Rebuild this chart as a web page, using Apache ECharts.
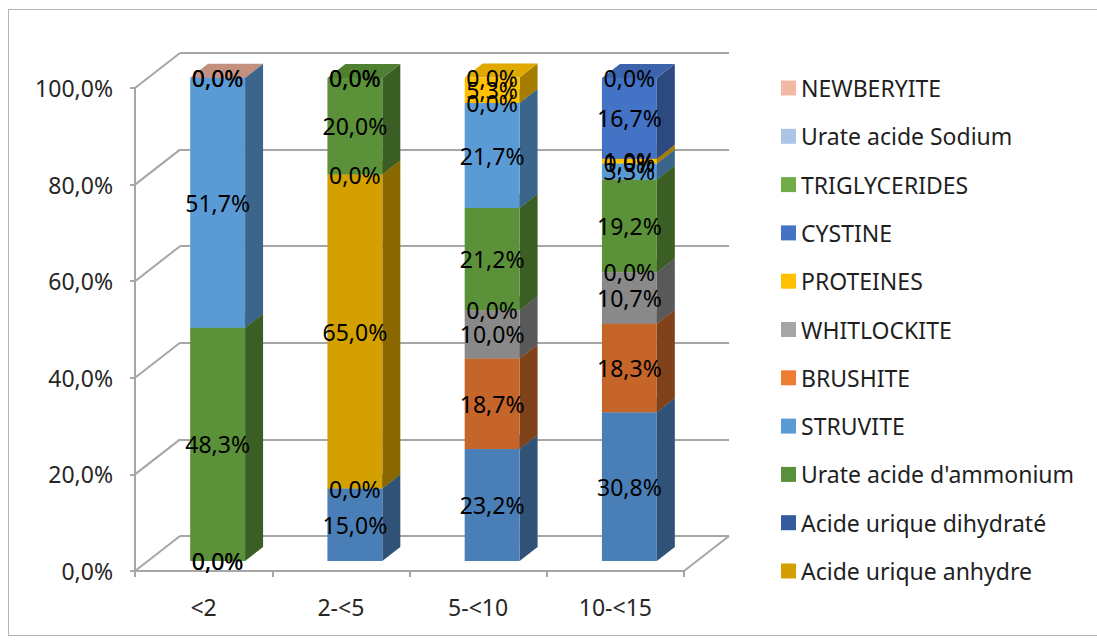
<!DOCTYPE html>
<html>
<head>
<meta charset="utf-8">
<script src="https://cdn.jsdelivr.net/npm/echarts@6/dist/echarts.min.js"></script>
<style>
  html, body { margin: 0; padding: 0; background: #ffffff; }
  #chart { position: absolute; left: 0; top: 0; width: 1097px; height: 641px; }
  #frame { position: absolute; left: 8px; top: 9px; width: 1100px; height: 627px;
           border: 1px solid #b3b3b3; box-sizing: border-box; pointer-events: none; }
</style>
</head>
<body>
<div id="chart"></div>
<div id="frame"></div>
<script>
// ---------------- data ----------------
const categories = ['<2', '2-<5', '5-<10', '10-<15'];
const yTicks = [0, 20, 40, 60, 80, 100];

// values in % per category (null = no data label in the reference)
const acideUriqueDihydrate = [0, 15.0, 23.2, 30.8];
const brushite             = [null, 0, 18.7, 18.3];
const whitlockite          = [null, null, 10.0, 10.7];
const acideUriqueAnhydre   = [0, 65.0, 0, 0];
const urateAcideSodium     = [null, 0, null, null];
const urateAcideAmmonium   = [48.3, 20.0, 21.2, 19.2];
const struvite             = [51.7, null, 21.7, 3.3];
const triglycerides        = [null, null, 0, 0];
const proteines            = [null, null, 5.3, 1.0];
const cystine              = [0, 0, 0, 16.7];
const newberyite           = [0.04, 0, null, 0];

// stacking order (bottom -> top)
const stackOrder = [
  { name: 'Acide urique dihydraté',   values: acideUriqueDihydrate, front: '#4a7eb6', legend: '#345a9f' },
  { name: 'BRUSHITE',                 values: brushite,             front: '#c5652a', legend: '#ed7d31' },
  { name: 'WHITLOCKITE',              values: whitlockite,          front: '#898989', legend: '#a5a5a5' },
  { name: 'Acide urique anhydre',     values: acideUriqueAnhydre,   front: '#d4a000', legend: '#d4a000' },
  { name: 'Urate acide Sodium',       values: urateAcideSodium,     front: '#8fb0d6', legend: '#abc5e6' },
  { name: "Urate acide d'ammonium",   values: urateAcideAmmonium,   front: '#5a9139', legend: '#5a8f3b' },
  { name: 'STRUVITE',                 values: struvite,             front: '#5b9bd5', legend: '#5b9bd5' },
  { name: 'TRIGLYCERIDES',            values: triglycerides,        front: '#70ad47', legend: '#70ad47' },
  { name: 'PROTEINES',                values: proteines,            front: '#ffc000', legend: '#ffc000' },
  { name: 'CYSTINE',                  values: cystine,              front: '#4472c4', legend: '#4472c4' },
  { name: 'NEWBERYITE',               values: newberyite,           front: '#dfa491', legend: '#f4b9a5' }
];

const legendOrder = ['NEWBERYITE', 'Urate acide Sodium', 'TRIGLYCERIDES', 'CYSTINE', 'PROTEINES',
  'WHITLOCKITE', 'BRUSHITE', 'STRUVITE', "Urate acide d'ammonium", 'Acide urique dihydraté',
  'Acide urique anhydre'];

// ---------------- helpers ----------------
function shade(hex, k) {
  const n = parseInt(hex.slice(1), 16);
  const r = Math.round(((n >> 16) & 255) * k);
  const g = Math.round(((n >> 8) & 255) * k);
  const b = Math.round((n & 255) * k);
  return 'rgb(' + r + ',' + g + ',' + b + ')';
}
function pct(v) { return v.toFixed(1).replace('.', ',') + '%'; }

const FONT = '"Noto Sans", "DejaVu Sans", sans-serif';
const LINE = '#a6a6a6';
const DEPTH_X = 18, DEPTH_Y = -14;   // bar depth (px)
const WALL_X = 45, WALL_Y = -35;     // floor / wall depth (px)

// cumulative stacking
const running = categories.map(() => 0);
const barSeries = stackOrder.map((s, si) => {
  const data = [];
  s.values.forEach((v, ci) => {
    if (v === null) return;
    const base = running[ci];
    running[ci] += v;
    data.push([ci, base, base + v, v]);
  });
  const front = s.front;
  return {
    name: s.name,
    type: 'custom',
    xAxisIndex: 1,
    yAxisIndex: 1,
    itemStyle: { color: s.legend },
    encode: { x: 0, y: [1, 2] },
    data: data,
    renderItem: function (params, api) {
      const ci = api.value(0), b = api.value(1), t = api.value(2), v = api.value(3);
      const pB = api.coord([ci, b]);
      const pT = api.coord([ci, t]);
      const band = api.size([1, 0])[0];
      const w = band * 0.4;
      const x0 = pB[0] - w / 2, x1 = pB[0] + w / 2;
      const yb = pB[1], yt = pT[1];
      const children = [];
      if (t - b > 0) {
        children.push({
          type: 'polygon',
          shape: { points: [[x1, yb], [x1 + DEPTH_X, yb + DEPTH_Y], [x1 + DEPTH_X, yt + DEPTH_Y], [x1, yt]] },
          style: { fill: shade(front, 0.65) }
        });
        children.push({
          type: 'polygon',
          shape: { points: [[x0, yt], [x0 + DEPTH_X, yt + DEPTH_Y], [x1 + DEPTH_X, yt + DEPTH_Y], [x1, yt]] },
          style: { fill: shade(front, 0.88) }
        });
        children.push({
          type: 'rect',
          shape: { x: x0, y: yt, width: w, height: yb - yt },
          style: { fill: front }
        });
      }
      children.push({
        type: 'text',
        z2: 100,
        style: {
          text: pct(v), x: pB[0], y: (yb + yt) / 2,
          align: 'center', verticalAlign: 'middle',
          font: '23px ' + FONT, fill: '#000000'
        }
      });
      return { type: 'group', children: children };
    }
  };
});

// frame: left wall diagonals and floor right edge
const frameSeries = {
  name: '__frame',
  type: 'custom',
  xAxisIndex: 0,
  yAxisIndex: 0,
  silent: true,
  z: 1,
  data: yTicks.map(v => [0, v]),
  renderItem: function (params, api) {
    const cs = params.coordSys;
    const y = api.coord([0, api.value(1)])[1];
    const children = [{
      type: 'line',
      shape: { x1: cs.x, y1: y, x2: cs.x + WALL_X, y2: y + WALL_Y },
      style: { stroke: LINE, lineWidth: 2 }
    }];
    if (api.value(1) === yTicks[0]) {
      children.push({
        type: 'line',
        shape: { x1: cs.x + cs.width, y1: y, x2: cs.x + cs.width + WALL_X, y2: y + WALL_Y },
        style: { stroke: LINE, lineWidth: 2 }
      });
    }
    return { type: 'group', children: children };
  }
};

const chart = echarts.init(document.getElementById('chart'), null, { renderer: 'svg' });
chart.setOption({
  animation: false,
  backgroundColor: '#ffffff',
  textStyle: { fontFamily: FONT },
  grid: [
    { left: 135, top: 88, width: 549, height: 483 },   // front axes plane
    { left: 149, top: 78, width: 549, height: 483 },   // bar plane
    { left: 180, top: 53, width: 549, height: 483 }    // back wall
  ],
  xAxis: [
    {
      gridIndex: 0, type: 'category', data: categories,
      axisLine: { show: true, lineStyle: { color: LINE, width: 2 } },
      axisTick: { show: true, length: 6, lineStyle: { color: LINE, width: 2 } },
      axisLabel: { fontSize: 23, color: '#262626', margin: 24, fontFamily: FONT },
      splitLine: { show: false }
    },
    { gridIndex: 1, type: 'category', data: categories, show: false },
    { gridIndex: 2, type: 'category', data: categories, show: false }
  ],
  yAxis: [
    {
      gridIndex: 0, type: 'value', min: 0, max: 100, interval: 20,
      axisLine: { show: true, lineStyle: { color: LINE, width: 2 } },
      axisTick: { show: true, length: 5, lineStyle: { color: LINE, width: 2 } },
      axisLabel: { fontSize: 23, color: '#262626', margin: 22, fontFamily: FONT, formatter: pct },
      splitLine: { show: false }
    },
    { gridIndex: 1, type: 'value', min: 0, max: 100, interval: 20, show: false },
    {
      gridIndex: 2, type: 'value', min: 0, max: 100, interval: 20,
      axisLine: { show: false }, axisTick: { show: false }, axisLabel: { show: false },
      splitLine: { show: true, lineStyle: { color: LINE, width: 2 } }
    }
  ],
  legend: {
    orient: 'vertical',
    left: 781,
    top: 75,
    padding: 0,
    icon: 'rect',
    itemWidth: 15,
    itemHeight: 15,
    itemGap: 22.3,
    textStyle: { fontSize: 23, color: '#1f1f1f', fontFamily: FONT, lineHeight: 26 },
    data: legendOrder.map(n => {
      const s = stackOrder.find(o => o.name === n);
      return { name: n, itemStyle: { color: s.legend } };
    })
  },
  series: [frameSeries].concat(barSeries)
});
</script>
</body>
</html>
